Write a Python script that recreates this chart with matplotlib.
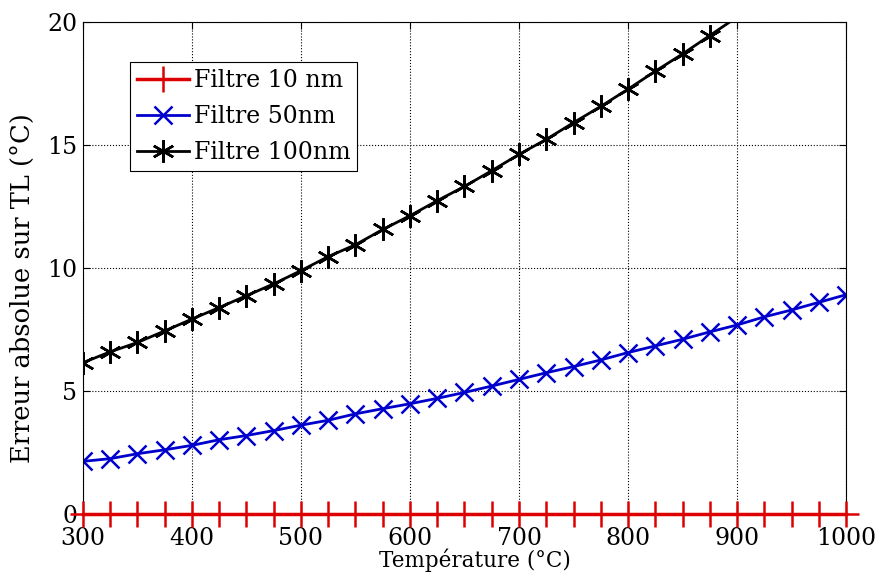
import matplotlib
matplotlib.use("Agg")
from matplotlib import pyplot as plt

# temperatures (degC), one point every 25
temp = list(range(300, 1001, 25))

err_10nm = [0.0] * len(temp)
err_50nm = [2.15, 2.26, 2.46, 2.62, 2.80, 3.03, 3.20, 3.40, 3.62, 3.82,
            4.08, 4.29, 4.49, 4.71, 4.95, 5.21, 5.48, 5.75, 6.00, 6.27,
            6.57, 6.84, 7.11, 7.41, 7.69, 8.02, 8.30, 8.61, 8.92]
err_100nm = [6.16, 6.60, 6.98, 7.45, 7.93, 8.40, 8.88, 9.36, 9.90, 10.47,
             10.95, 11.57, 12.13, 12.74, 13.32, 13.96, 14.62, 15.23, 15.91, 16.57,
             17.27, 18.00, 18.70, 19.45, 20.20, 20.95, 21.70, 22.50, 23.30]

ymax = 20
plt.rcParams['font.family'] = ['DejaVu Serif']

fig = plt.figure(figsize=(8.76, 5.8), dpi=100)
ax = fig.add_axes([0.0947, 0.1133, 0.8711, 0.8488])

# markers outside the axes are not drawn (like matlab)
inside = [i for i, v in enumerate(err_100nm) if v <= ymax]

ax.plot(temp, err_10nm, color='#dd0000', lw=2.5, marker='+', ms=19, mew=1.8,
        clip_on=False, zorder=5, label='Filtre 10 nm')
ax.plot(temp, err_50nm, color='#0000cc', lw=2, marker='x', ms=13, mew=1.8, label='Filtre 50nm')
ax.plot(temp, err_100nm, color='black', lw=2, marker=(6, 2, 0), ms=16, mew=1.8,
        markevery=inside, label='Filtre 100nm')

ax.set_xlim(300, 1000)
ax.set_ylim(0, ymax)
ax.set_xticks(range(300, 1001, 100))
ax.set_yticks([0, 5, 10, 15, 20])
ax.grid(True, color='black', linestyle=':', linewidth=0.8)
ax.tick_params(direction='in', top=True, right=True, labelsize=17, length=5)
ax.tick_params(axis='x', pad=9)
ax.tick_params(axis='y', pad=4)
for s in ax.spines.values():
    s.set_linewidth(0.8)

ax.set_xlabel('Température (°C)', fontsize=15.5)
ax.set_ylabel('Erreur absolue sur TL (°C)', fontsize=18.5)
ax.xaxis.set_label_coords(0.514, -0.0705)
ax.yaxis.set_label_coords(-0.063, 0.46)

leg = ax.legend(loc='upper left', bbox_to_anchor=(0.0616, 0.919), borderaxespad=0,
                fontsize=17, fancybox=False, edgecolor='black', framealpha=1,
                handlelength=2.2, handletextpad=0.2, labelspacing=0.55, borderpad=0.3)
leg.get_frame().set_linewidth(0.8)

fig.savefig('out.png', dpi=100)
